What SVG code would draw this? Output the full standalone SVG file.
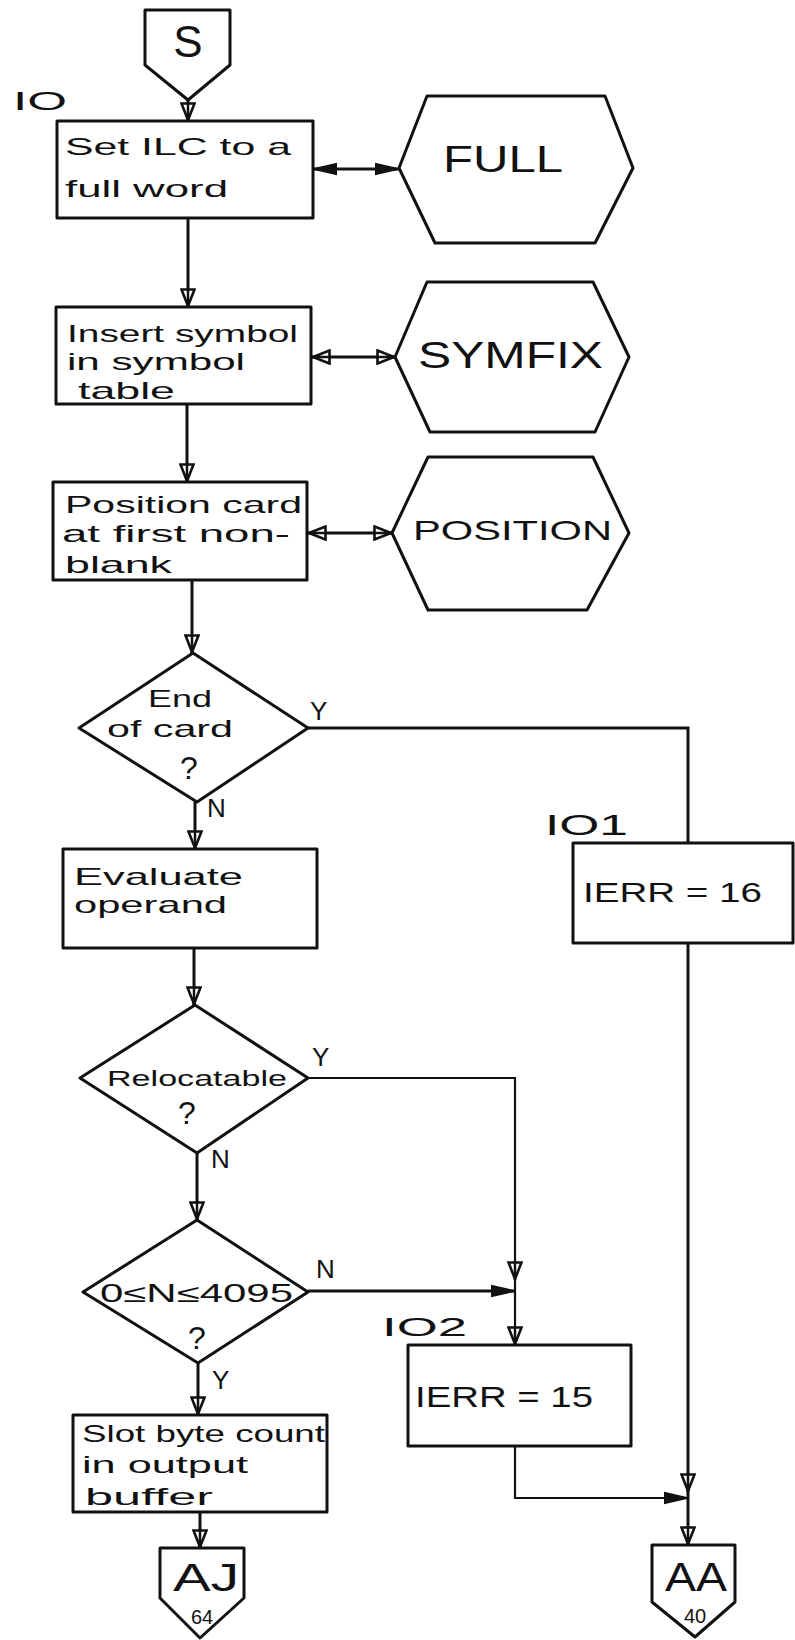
<svg xmlns="http://www.w3.org/2000/svg" width="795" height="1640" viewBox="0 0 795 1640">
  <style>
    .shape { fill: #fff; stroke: #111; stroke-width: 3; stroke-linejoin: round; }
    .wire { fill: none; stroke: #111; stroke-width: 3; }
    .thin { fill: none; stroke: #111; stroke-width: 2.2; }
    .txt { font-family: "Liberation Sans", "DejaVu Sans", sans-serif; fill: #111; }
    .body { font-size: 24px; }
    .lbl { font-size: 25px; }
    .hex { font-size: 36px; }
    .yn { font-size: 26px; }
    .q { font-size: 32px; }
    .page { font-size: 20px; }
  </style>
  <defs>
    <!-- open triangle head with the shaft running through it -->
    <marker id="open" viewBox="0 0 19 16" refX="19" refY="8" markerWidth="19" markerHeight="16" markerUnits="userSpaceOnUse" orient="auto-start-reverse">
      <path d="M1.5,1.5 L18,8 L1.5,14.5 Z" fill="#fff" stroke="#111" stroke-width="2.6"/>
      <path d="M0,8 L19,8" stroke="#111" stroke-width="2.5"/>
    </marker>
    <!-- solid triangle head -->
    <marker id="solid" viewBox="0 0 24 14" refX="24" refY="7" markerWidth="24" markerHeight="14" markerUnits="userSpaceOnUse" orient="auto-start-reverse">
      <path d="M0,1.5 L24,7 L0,12.5 Z" fill="#111" stroke="#111" stroke-width="1.5"/>
    </marker>
  </defs>

  <!-- connectors -->
  <g id="connectors">
    <path class="wire" d="M188,100 V121" marker-end="url(#open)"/>
    <path class="wire" d="M313,169 H399" marker-start="url(#solid)" marker-end="url(#solid)"/>
    <path class="wire" d="M188,218 V307" marker-end="url(#open)"/>
    <path class="wire" d="M312,357 H395" marker-start="url(#open)" marker-end="url(#open)"/>
    <path class="wire" d="M187,404 V482" marker-end="url(#open)"/>
    <path class="wire" d="M308,533 H392" marker-start="url(#open)" marker-end="url(#open)"/>
    <path class="wire" d="M192,580 V653" marker-end="url(#open)"/>
    <path class="wire" d="M195,802 V849" marker-end="url(#open)"/>
    <path class="wire" d="M308,728 H688 V843"/>
    <path class="wire" d="M194,948 V1005" marker-end="url(#open)"/>
    <path class="wire" d="M197,1153 V1220" marker-end="url(#open)"/>
    <path class="thin" d="M308,1078 H515 V1280" marker-end="url(#open)"/>
    <path class="wire" d="M308,1291 H515" marker-end="url(#solid)"/>
    <path class="thin" d="M515,1280 V1345" marker-end="url(#open)"/>
    <path class="wire" d="M198,1363 V1415" marker-end="url(#open)"/>
    <path class="wire" d="M200,1512 V1548" marker-end="url(#open)"/>
    <path class="wire" d="M688,943 V1492" marker-end="url(#open)"/>
    <path class="thin" d="M515,1446 V1498 H688" marker-end="url(#solid)"/>
    <path class="wire" d="M688,1492 V1545" marker-end="url(#open)"/>
    <!-- branch labels -->
    <text class="txt yn" x="310" y="720">Y</text>
    <text class="txt yn" x="207" y="817">N</text>
    <text class="txt yn" x="312" y="1066">Y</text>
    <text class="txt yn" x="211" y="1168">N</text>
    <text class="txt yn" x="316" y="1278">N</text>
    <text class="txt yn" x="212" y="1389">Y</text>
  </g>

  <!-- entry connector S -->
  <g id="start">
    <path class="shape" d="M145,10 H230 V65 L188,100 L145,65 Z"/>
    <text class="txt" x="188" y="57" font-size="44" text-anchor="middle">S</text>
  </g>

  <g id="label-io">
    <text class="txt lbl" x="13" y="110" textLength="54" lengthAdjust="spacingAndGlyphs">IO</text>
  </g>

  <g id="set-ilc">
    <rect class="shape" x="57" y="121" width="256" height="97"/>
    <text class="txt body" x="65" y="155" textLength="226" lengthAdjust="spacingAndGlyphs">Set ILC to a</text>
    <text class="txt body" x="65" y="197" textLength="163" lengthAdjust="spacingAndGlyphs">full word</text>
  </g>

  <g id="full">
    <path class="shape" d="M399,168 L427,96 H605 L633,168 L595,243 H435 Z"/>
    <text class="txt hex" x="443" y="172" textLength="120" lengthAdjust="spacingAndGlyphs">FULL</text>
  </g>

  <g id="insert-symbol">
    <rect class="shape" x="56" y="307" width="255" height="97"/>
    <text class="txt body" x="67" y="342" textLength="231" lengthAdjust="spacingAndGlyphs">Insert symbol</text>
    <text class="txt body" x="67" y="370" textLength="178" lengthAdjust="spacingAndGlyphs">in symbol</text>
    <text class="txt body" x="78" y="399" textLength="97" lengthAdjust="spacingAndGlyphs">table</text>
  </g>

  <g id="symfix">
    <path class="shape" d="M395,357 L427,282 H593 L629,357 L595,432 H430 Z"/>
    <text class="txt hex" x="418" y="368" textLength="185" lengthAdjust="spacingAndGlyphs">SYMFIX</text>
  </g>

  <g id="position-card">
    <rect class="shape" x="53" y="482" width="254" height="98"/>
    <text class="txt body" x="65" y="513" textLength="237" lengthAdjust="spacingAndGlyphs">Position card</text>
    <text class="txt body" x="62" y="542" textLength="228" lengthAdjust="spacingAndGlyphs">at first non-</text>
    <text class="txt body" x="65" y="573" textLength="107" lengthAdjust="spacingAndGlyphs">blank</text>
  </g>

  <g id="position">
    <path class="shape" d="M392,533 L428,457 H593 L629,533 L587,610 H428 Z"/>
    <text class="txt" x="413" y="540" font-size="28" textLength="199" lengthAdjust="spacingAndGlyphs">POSITION</text>
  </g>

  <g id="end-of-card">
    <path class="shape" d="M193,653 L308,728 L197,802 L79,728 Z"/>
    <text class="txt body" x="180" y="707" text-anchor="middle" textLength="64" lengthAdjust="spacingAndGlyphs">End</text>
    <text class="txt body" x="107" y="737" textLength="126" lengthAdjust="spacingAndGlyphs">of card</text>
    <text class="txt q" x="189" y="779" text-anchor="middle">?</text>
  </g>

  <g id="label-io1">
    <text class="txt" x="545" y="835" font-size="30" textLength="83" lengthAdjust="spacingAndGlyphs">IO1</text>
  </g>

  <g id="ierr-16">
    <rect class="shape" x="573" y="843" width="220" height="100"/>
    <text class="txt" x="583" y="902" font-size="28" textLength="179" lengthAdjust="spacingAndGlyphs">IERR = 16</text>
  </g>

  <g id="evaluate">
    <rect class="shape" x="63" y="849" width="254" height="99"/>
    <text class="txt body" x="74" y="885" textLength="169" lengthAdjust="spacingAndGlyphs">Evaluate</text>
    <text class="txt body" x="74" y="913" textLength="153" lengthAdjust="spacingAndGlyphs">operand</text>
  </g>

  <g id="relocatable">
    <path class="shape" d="M195,1005 L308,1078 L197,1153 L80,1078 Z"/>
    <text class="txt" x="107" y="1086" font-size="22" textLength="180" lengthAdjust="spacingAndGlyphs">Relocatable</text>
    <text class="txt q" x="187" y="1124" text-anchor="middle">?</text>
  </g>

  <g id="range-check">
    <path class="shape" d="M197,1220 L308,1292 L198,1363 L83,1292 Z"/>
    <text class="txt" x="100" y="1302" font-size="25" textLength="193" lengthAdjust="spacingAndGlyphs">0≤N≤4095</text>
    <text class="txt q" x="197" y="1349" text-anchor="middle">?</text>
  </g>

  <g id="label-io2">
    <text class="txt" x="382" y="1336" font-size="26" textLength="85" lengthAdjust="spacingAndGlyphs">IO2</text>
  </g>

  <g id="ierr-15">
    <rect class="shape" x="408" y="1345" width="223" height="101"/>
    <text class="txt" x="415" y="1407" font-size="30" textLength="178" lengthAdjust="spacingAndGlyphs">IERR = 15</text>
  </g>

  <g id="slot-byte-count">
    <rect class="shape" x="73" y="1415" width="254" height="97"/>
    <text class="txt body" x="82" y="1442" textLength="243" lengthAdjust="spacingAndGlyphs">Slot byte count</text>
    <text class="txt body" x="82" y="1473" textLength="166" lengthAdjust="spacingAndGlyphs">in output</text>
    <text class="txt body" x="85" y="1505" textLength="128" lengthAdjust="spacingAndGlyphs">buffer</text>
  </g>

  <g id="exit-aj">
    <path class="shape" d="M160,1548 H244 V1598 L200,1638 L160,1598 Z"/>
    <text class="txt" x="173" y="1591" font-size="38" textLength="66" lengthAdjust="spacingAndGlyphs">AJ</text>
    <text class="txt page" x="202" y="1624" text-anchor="middle">64</text>
  </g>

  <g id="exit-aa">
    <path class="shape" d="M652,1545 H735 V1602 L695,1637 L652,1602 Z"/>
    <text class="txt" x="665" y="1591" font-size="40" textLength="62" lengthAdjust="spacingAndGlyphs">AA</text>
    <text class="txt page" x="695" y="1623" text-anchor="middle">40</text>
  </g>
</svg>
